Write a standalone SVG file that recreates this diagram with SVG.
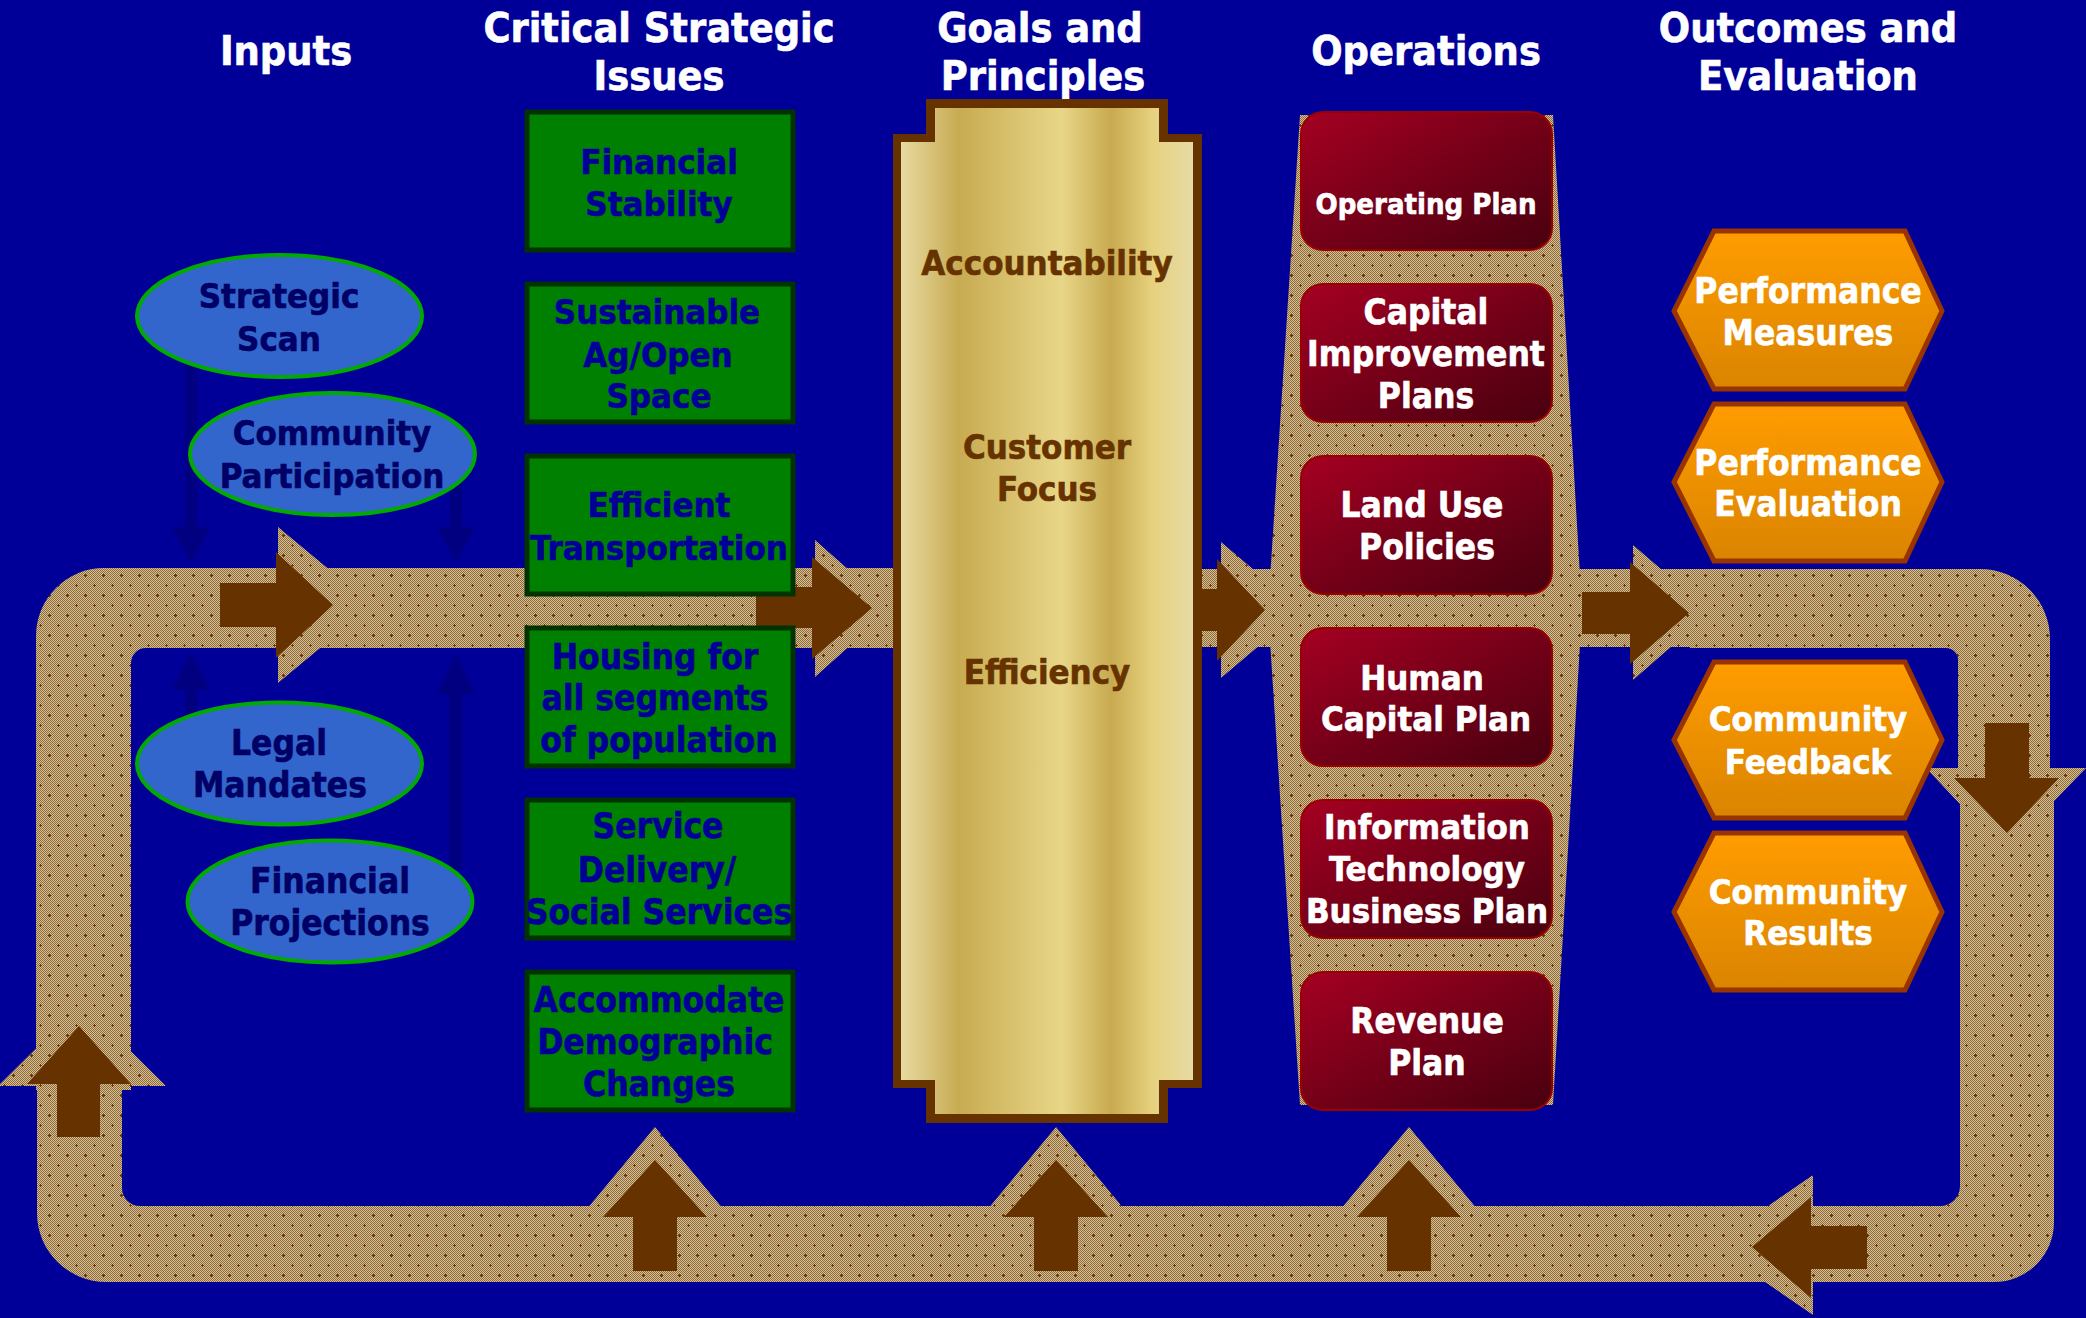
<svg xmlns="http://www.w3.org/2000/svg" width="2086" height="1318" viewBox="0 0 2086 1318">
<defs>
<style>
text{stroke-width:0.6px}
.v{font-family:"DejaVu Sans Condensed","Liberation Sans",sans-serif;font-stretch:condensed;font-weight:bold;font-size:34.5px;text-anchor:middle}
.t{font-family:"DejaVu Sans Condensed","Liberation Sans",sans-serif;font-stretch:condensed;font-weight:bold;font-size:35px;text-anchor:middle}
.h{font-family:"DejaVu Sans Condensed","Liberation Sans",sans-serif;font-stretch:condensed;font-weight:bold;font-size:41px;text-anchor:middle;fill:#ffffff;stroke:#ffffff}
.gb{fill:#008000;stroke:#003300;stroke-width:5}
.gt{fill:#000099;stroke:#000099}
.el{fill:#3366cc;stroke:#00aa00;stroke-width:4}
.et{fill:#000066;stroke:#000066}
.rb{fill:url(#red);stroke:#990000;stroke-width:2}
.wt{fill:#ffffff;stroke:#ffffff}
.hx{fill:url(#org);stroke:#993300;stroke-width:5}
.st{fill:#663300;stroke:#663300}
.tex{fill:url(#tex)}
.ba{fill:#663300}
.na{fill:#000080}
</style>
<pattern id="chk" width="2" height="2" patternUnits="userSpaceOnUse">
<rect width="2" height="2" fill="#d9c08e"/>
<rect width="1" height="1" fill="#8a6a40"/>
<rect x="1" y="1" width="1" height="1" fill="#8a6a40"/>
</pattern>
<pattern id="tex" width="18" height="20" patternUnits="userSpaceOnUse">
<rect width="18" height="20" fill="url(#chk)"/>
<rect x="3" y="5" width="3" height="1" fill="#6b3300"/>
<rect x="4" y="4" width="1" height="3" fill="#6b3300"/>
<rect x="12" y="15" width="3" height="1" fill="#6b3300"/>
<rect x="13" y="14" width="1" height="3" fill="#6b3300"/>
</pattern>
<linearGradient id="red" x1="0" y1="0" x2="1" y2="1">
<stop offset="0" stop-color="#a60022"/>
<stop offset="0.5" stop-color="#750018"/>
<stop offset="1" stop-color="#48000f"/>
</linearGradient>
<linearGradient id="org" x1="0" y1="0" x2="0" y2="1">
<stop offset="0" stop-color="#ff9c00"/>
<stop offset="1" stop-color="#da8400"/>
</linearGradient>
<linearGradient id="gold" x1="901" y1="0" x2="1193" y2="0" gradientUnits="userSpaceOnUse">
<stop offset="0" stop-color="#e6d9a0"/>
<stop offset="0.2" stop-color="#c8ab52"/>
<stop offset="0.55" stop-color="#e8d688"/>
<stop offset="0.72" stop-color="#c8aa50"/>
<stop offset="0.86" stop-color="#e6d17e"/>
<stop offset="1" stop-color="#e7dba4"/>
</linearGradient>
</defs>
<rect width="2086" height="1318" fill="#000099"/>

<g id="headings">
<text class="h" x="286" y="65">Inputs</text>
<text class="h" x="659" y="42">Critical Strategic</text>
<text class="h" x="659" y="90">Issues</text>
<text class="h" x="1040" y="42">Goals and</text>
<text class="h" x="1043" y="90">Principles</text>
<text class="h" x="1426" y="65">Operations</text>
<text class="h" x="1808" y="42">Outcomes and</text>
<text class="h" x="1808" y="90">Evaluation</text>
</g>

<g id="connectors">
<!-- textured loop -->
<path class="tex" d="M36,1090 V636 A68,68 0 0 1 104,568 H278 V527 L372,605 L278,683 V648 H146 A15,15 0 0 0 131,663 V1090 Z"/>
<rect class="tex" x="278" y="568" width="627" height="80"/>
<polygon class="tex" points="815,540 892,608 815,677"/>
<rect class="tex" x="1195" y="569" width="105" height="78"/>
<polygon class="tex" points="1221,542 1301,610 1221,678"/>
<polygon class="tex" points="1300,115 1553,115 1582,610 1553,1105 1300,1105 1268,610"/>
<rect class="tex" x="1575" y="569" width="125" height="78"/>
<polygon class="tex" points="1633,545 1711,612 1633,680"/>
<path class="tex" d="M1690,569 H1980 A70,70 0 0 1 2050,639 V768 H2086 L2005,852 L1926,768 H1958 V660 A12,12 0 0 0 1946,648 H1690 Z"/>
<path class="tex" d="M2054,768 V1222 A60,60 0 0 1 1994,1282 H1813 V1315 L1711,1245 L1813,1175 V1206 H1940 A20,20 0 0 0 1960,1186 V768 Z"/>
<path class="tex" d="M1815,1206 V1282 H106 A69,69 0 0 1 37,1213 V1086 H-2 L82,1003 L166,1086 H122 V1188 A18,18 0 0 0 140,1206 H1815 Z"/>
<polygon class="tex" points="586,1210 655,1127 724,1210"/>
<polygon class="tex" points="987,1210 1056,1127 1125,1210"/>
<polygon class="tex" points="1340,1210 1409,1127 1478,1210"/>
<!-- brown direction arrows -->
<path class="ba" d="M220,583 H276 V552 L333,605 L276,658 V627 H220 Z"/>
<path class="ba" d="M756,587 H812 V557 L872,608 L812,659 V628 H756 Z"/>
<path class="ba" d="M1190,589 H1217 V559 L1265,610 L1217,661 V631 H1190 Z"/>
<path class="ba" d="M1582,592 H1630 V562 L1689,613 L1630,664 V634 H1582 Z"/>
<path class="ba" d="M1985,723 H2029 V778 H2059 L2007,833 L1954,778 H1985 Z"/>
<path class="ba" d="M1867,1226 V1269 H1811 V1298 L1752,1247 L1811,1197 V1226 Z"/>
<path class="ba" d="M1387,1271 V1217 H1357 L1409,1160 L1461,1217 H1431 V1271 Z"/>
<path class="ba" d="M1034,1271 V1217 H1004 L1056,1160 L1108,1217 H1078 V1271 Z"/>
<path class="ba" d="M633,1271 V1217 H603 L655,1160 L707,1217 H677 V1271 Z"/>
<path class="ba" d="M57,1137 V1084 H27 L79,1026 L131,1084 H100 V1137 Z"/>
<!-- navy input arrows -->
<rect class="na" x="185" y="360" width="12" height="168"/>
<polygon class="na" points="172,527 210,527 191,563"/>
<rect class="na" x="450" y="480" width="12" height="48"/>
<polygon class="na" points="437,527 475,527 456,563"/>
<rect class="na" x="185" y="689" width="12" height="31"/>
<polygon class="na" points="172,690 210,690 191,652"/>
<rect class="na" x="449" y="693" width="13" height="177"/>
<polygon class="na" points="437,694 475,694 456,654"/>
</g>

<g id="strategic-scan">
<ellipse class="el" cx="279.5" cy="316" rx="142.5" ry="61"/>
<text class="v et" x="279" y="308">Strategic</text>
<text class="v et" x="279" y="351">Scan</text>
</g>
<g id="community-participation">
<ellipse class="el" cx="332.5" cy="454" rx="142.5" ry="61"/>
<text class="v et" x="332" y="445">Community</text>
<text class="v et" x="332" y="488">Participation</text>
</g>
<g id="legal-mandates">
<ellipse class="el" cx="279.5" cy="763.5" rx="142.5" ry="61"/>
<text class="t et" x="279" y="755">Legal</text>
<text class="t et" x="280" y="797">Mandates</text>
</g>
<g id="financial-projections">
<ellipse class="el" cx="330" cy="901.5" rx="142.5" ry="61"/>
<text class="t et" x="330" y="893">Financial</text>
<text class="t et" x="330" y="935">Projections</text>
</g>

<g id="financial-stability">
<rect class="gb" x="527" y="112" width="266" height="138"/>
<text class="v gt" x="659" y="174">Financial</text>
<text class="v gt" x="659" y="216">Stability</text>
</g>
<g id="sustainable-ag">
<rect class="gb" x="527" y="284" width="266" height="138"/>
<text class="v gt" x="657" y="324">Sustainable</text>
<text class="v gt" x="658" y="367">Ag/Open</text>
<text class="v gt" x="659" y="408">Space</text>
</g>
<g id="efficient-transportation">
<rect class="gb" x="527" y="456" width="266" height="138"/>
<text class="v gt" x="659" y="517">Efficient</text>
<text class="v gt" x="659" y="560">Transportation</text>
</g>
<g id="housing">
<rect class="gb" x="527" y="628" width="266" height="138"/>
<text class="t gt" x="655" y="669">Housing for</text>
<text class="t gt" x="655" y="710">all segments</text>
<text class="t gt" x="659" y="752">of population</text>
</g>
<g id="service-delivery">
<rect class="gb" x="527" y="800" width="266" height="138"/>
<text class="t gt" x="658" y="838">Service</text>
<text class="t gt" x="657" y="882">Delivery/</text>
<text class="t gt" x="659" y="924">Social Services</text>
</g>
<g id="demographic-changes">
<rect class="gb" x="527" y="972" width="266" height="138"/>
<text class="t gt" x="659" y="1012">Accommodate</text>
<text class="t gt" x="655" y="1054">Demographic</text>
<text class="t gt" x="659" y="1096">Changes</text>
</g>

<g id="goals-scroll">
<polygon fill="#663300" points="926,99 1168,99 1168,134 1202,134 1202,1088 1168,1088 1168,1123 926,1123 926,1088 893,1088 893,134 926,134"/>
<polygon fill="url(#gold)" points="935,108 1159,108 1159,142 1193,142 1193,1080 1159,1080 1159,1114 935,1114 935,1080 901,1080 901,142 935,142"/>
<text class="v st" x="1047" y="275">Accountability</text>
<text class="v st" x="1047" y="459">Customer</text>
<text class="v st" x="1047" y="501">Focus</text>
<text class="v st" x="1047" y="684">Efficiency</text>
</g>

<g id="operating-plan">
<rect class="rb" x="1301" y="112" width="251" height="138" rx="22"/>
<text class="t wt" x="1426" y="214" style="font-size:29px">Operating Plan</text>
</g>
<g id="capital-improvement">
<rect class="rb" x="1301" y="284" width="251" height="138" rx="22"/>
<text class="t wt" x="1426" y="324">Capital</text>
<text class="t wt" x="1426" y="366">Improvement</text>
<text class="t wt" x="1426" y="408">Plans</text>
</g>
<g id="land-use">
<rect class="rb" x="1301" y="456" width="251" height="138" rx="22"/>
<text class="t wt" x="1422" y="517">Land Use</text>
<text class="t wt" x="1427" y="559">Policies</text>
</g>
<g id="human-capital">
<rect class="rb" x="1301" y="628" width="251" height="138" rx="22"/>
<text class="v wt" x="1422" y="690">Human</text>
<text class="v wt" x="1426" y="731">Capital Plan</text>
</g>
<g id="it-business">
<rect class="rb" x="1301" y="800" width="251" height="138" rx="22"/>
<text class="v wt" x="1427" y="839">Information</text>
<text class="v wt" x="1427" y="881">Technology</text>
<text class="v wt" x="1427" y="923">Business Plan</text>
</g>
<g id="revenue-plan">
<rect class="rb" x="1301" y="972" width="251" height="138" rx="22"/>
<text class="t wt" x="1427" y="1033">Revenue</text>
<text class="t wt" x="1427" y="1075">Plan</text>
</g>

<g id="performance-measures">
<polygon class="hx" points="1674,311 1714,231 1905,231 1942,311 1905,389 1714,389"/>
<text class="t wt" x="1808" y="303">Performance</text>
<text class="t wt" x="1808" y="345">Measures</text>
</g>
<g id="performance-evaluation">
<polygon class="hx" points="1674,482 1714,404 1905,404 1942,482 1905,561 1714,561"/>
<text class="t wt" x="1808" y="475">Performance</text>
<text class="t wt" x="1808" y="516">Evaluation</text>
</g>
<g id="community-feedback">
<polygon class="hx" points="1674,740 1714,662 1905,662 1942,740 1905,818 1714,818"/>
<text class="v wt" x="1808" y="731">Community</text>
<text class="v wt" x="1808" y="774">Feedback</text>
</g>
<g id="community-results">
<polygon class="hx" points="1674,912 1714,833 1905,833 1942,912 1905,990 1714,990"/>
<text class="v wt" x="1808" y="904">Community</text>
<text class="v wt" x="1808" y="945">Results</text>
</g>
</svg>
